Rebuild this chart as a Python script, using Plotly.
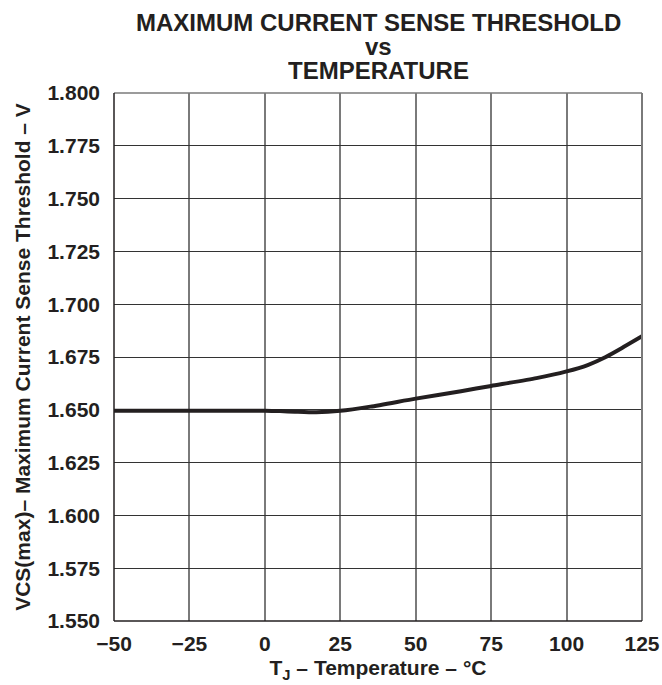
import plotly.graph_objects as go

temperature_c = [-50, -25, 0, 5, 10, 17, 25, 35, 50, 65, 75, 90, 100, 107, 113, 119, 125]
threshold_v = [1.6495, 1.6495, 1.6495, 1.6494, 1.6491, 1.6488, 1.6495, 1.6515, 1.6553, 1.6588,
               1.6613, 1.6650, 1.6682, 1.6712, 1.6750, 1.6798, 1.6848]

x_ticks = [-50, -25, 0, 25, 50, 75, 100, 125]
x_tick_labels = ["\u221250", "\u221225", "0", "25", "50", "75", "100", "125"]
y_ticks = [1.550, 1.575, 1.600, 1.625, 1.650, 1.675, 1.700, 1.725, 1.750, 1.775, 1.800]
y_tick_labels = ["%.3f" % v for v in y_ticks]

FONT = "Arial, 'Liberation Sans', Helvetica, sans-serif"
W, H = 662, 685
L, R, T, B = 114, 19.5, 92.7, 64
PH = H - T - B

fig = go.Figure()
fig.add_trace(go.Scatter(
    x=temperature_c, y=threshold_v, mode="lines",
    line=dict(color="#231f20", width=4, shape="spline", smoothing=0.6),
    showlegend=False, hoverinfo="x+y",
))

def py(y_px):
    return 1 + (T - y_px) / PH

title_lines = [("MAXIMUM CURRENT SENSE THRESHOLD", 22), ("vs", 46), ("TEMPERATURE", 69.5)]
for txt, ypx in title_lines:
    fig.add_annotation(text="<b>%s</b>" % txt, xref="paper", yref="paper",
                       x=0.5, y=py(ypx), xanchor="center", yanchor="middle",
                       height=20, valign="middle",
                       showarrow=False, font=dict(family=FONT, size=24, color="#231f20"))

# frame
fig.add_shape(type="line", xref="paper", yref="paper", x0=0, x1=1, y0=1, y1=1,
              line=dict(color="#7a7a7a", width=1.5))
fig.add_shape(type="line", xref="paper", yref="paper", x0=1, x1=1, y0=0, y1=1,
              line=dict(color="#7a7a7a", width=2))
fig.add_shape(type="line", xref="paper", yref="paper", x0=0, x1=1, y0=0, y1=0,
              line=dict(color="#231f20", width=1.5))
fig.add_shape(type="line", xref="paper", yref="paper", x0=0, x1=0, y0=0, y1=1,
              line=dict(color="#231f20", width=1.5))

fig.update_layout(
    width=W, height=H,
    margin=dict(l=L, r=R, t=T, b=B, pad=0, autoexpand=False),
    paper_bgcolor="white", plot_bgcolor="white",
    font=dict(family=FONT, size=21, color="#231f20"),
    xaxis=dict(
        range=[-50, 125], tickmode="array", tickvals=x_ticks,
        ticktext=["<b>%s</b>" % t for t in x_tick_labels],
        showgrid=True, gridcolor="#7a7a7a", gridwidth=1.8,
        zeroline=False, showline=False, ticks="", automargin=False,
        ticklabelstandoff=8,
        title=dict(text="<b>T<sub>J</sub> \u2013 Temperature \u2013 \u00b0C</b>",
                   font=dict(size=21), standoff=6),
        tickfont=dict(size=21),
    ),
    yaxis=dict(
        range=[1.550, 1.800], tickmode="array", tickvals=y_ticks,
        ticktext=["<b>%s</b>" % t for t in y_tick_labels],
        showgrid=True, gridcolor="#333333", gridwidth=1,
        zeroline=False, showline=False, ticks="", automargin=False,
        ticklabelstandoff=13,
        title=dict(text="<b>VCS(max)\u2013 Maximum Current Sense Threshold \u2013 V</b>",
                   font=dict(size=21), standoff=11),
        tickfont=dict(size=21),
    ),
)

fig.write_html("out.html", config={"displayModeBar": False},
               post_script="document.body.style.margin='0';document.body.style.overflow='hidden';")
